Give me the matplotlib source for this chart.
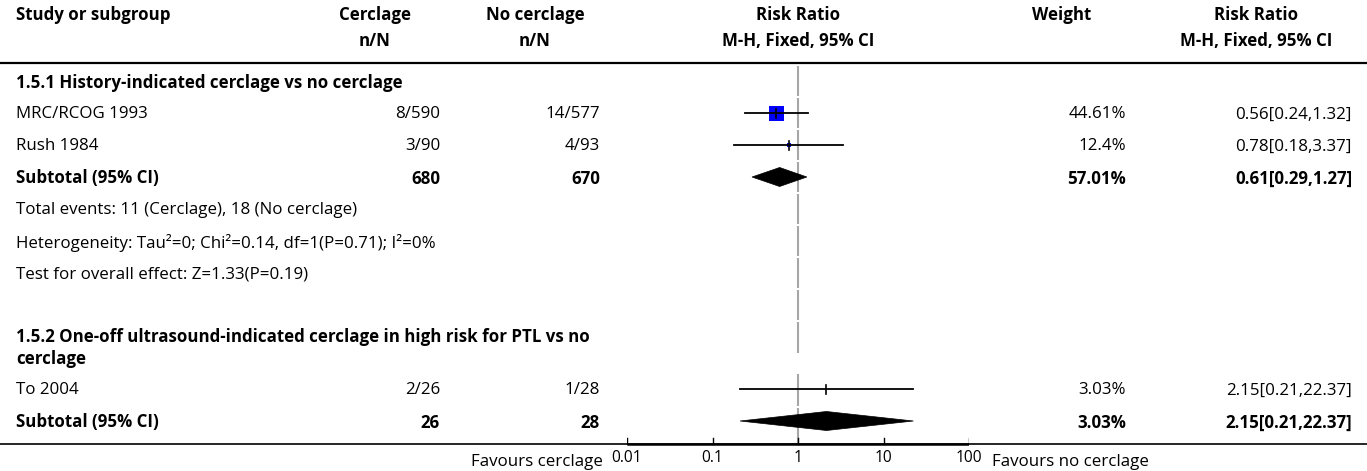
import matplotlib
matplotlib.use("Agg")
import matplotlib.pyplot as plt
from matplotlib.patches import Polygon

plt.rcParams["font.family"] = ["Open Sans", "DejaVu Sans"]

# ---- data ----
studies = ["MRC/RCOG 1993", "Rush 1984", "To 2004"]
cerclage_events = ["8/590", "3/90", "2/26"]
control_events = ["14/577", "4/93", "1/28"]
study_rr = [0.56, 0.78, 2.15]
study_lo = [0.24, 0.18, 0.21]
study_hi = [1.32, 3.37, 22.37]
study_weight = [44.61, 12.4, 3.03]
study_weight_txt = ["44.61%", "12.4%", "3.03%"]

subgroups = ["1.5.1 History-indicated cerclage vs no cerclage",
             "1.5.2 One-off ultrasound-indicated cerclage in high risk for PTL vs no\ncerclage"]
sub_n_cerclage = ["680", "26"]
sub_n_control = ["670", "28"]
sub_rr = [0.61, 2.15]
sub_lo = [0.29, 0.21]
sub_hi = [1.27, 22.37]
sub_weight_txt = ["57.01%", "3.03%"]

notes_151 = ["Total events: 11 (Cerclage), 18 (No cerclage)",
             "Heterogeneity: Tau\u00b2=0; Chi\u00b2=0.14, df=1(P=0.71); I\u00b2=0%",
             "Test for overall effect: Z=1.33(P=0.19)"]

axis_ticks = [0.01, 0.1, 1, 10, 100]
axis_tick_labels = ["0.01", "0.1", "1", "10", "100"]
left_label = "Favours cerclage"
right_label = "Favours no cerclage"

# ---- layout (pixel units, y downward) ----
W, H = 1367, 471
fig = plt.figure(figsize=(W / 100, H / 100), dpi=100)
tx = fig.add_axes([0, 0, 1, 1])
tx.set_xlim(0, W)
tx.set_ylim(H, 0)
tx.axis("off")

# forest panel on a log scale, sharing the pixel y frame
fx0, fx1 = 627, 969
fa = fig.add_axes([fx0 / W, 0, (fx1 - fx0) / W, 1])
fa.set_xscale("log")
fa.set_xlim(0.01, 100)
fa.set_ylim(H, 0)
fa.axis("off")
fa.patch.set_alpha(0)

FS = 12.2
BW = "bold"
DY = 1.5  # nudges text so its visual centre sits on the row centre
col_study = 16
col_c_ctr, col_c_right = 375, 440
col_n_ctr, col_n_right = 535, 600
col_rr_ctr = 798
col_w_ctr, col_w_right = 1062, 1126
col_rr2_ctr, col_rr2_right = 1256, 1352


def put(x, y, s, **kw):
    kw.setdefault("fontsize", FS)
    kw.setdefault("va", "center")
    tx.text(x, y + DY, s, **kw)


# header
hy1, hy2 = 14, 40
put(col_study, hy1, "Study or subgroup", weight=BW)
for cx, t in [(col_c_ctr, "Cerclage"), (col_n_ctr, "No cerclage"), (col_rr_ctr, "Risk Ratio"),
              (col_w_ctr, "Weight"), (col_rr2_ctr, "Risk Ratio")]:
    put(cx, hy1, t, weight=BW, ha="center")
for cx, t in [(col_c_ctr, "n/N"), (col_n_ctr, "n/N"), (col_rr_ctr, "M-H, Fixed, 95% CI"),
              (col_rr2_ctr, "M-H, Fixed, 95% CI")]:
    put(cx, hy2, t, weight=BW, ha="center")
tx.plot([0, W], [63, 63], color="black", lw=1.6)

# row centres
y_sg1 = 81
y_studies = [113, 145, 389]
y_sub = [177, 421]
y_notes = [209, 241, 273]
y_sg2_lines = [335, 357]

put(col_study, y_sg1, subgroups[0], weight=BW)
for line, y in zip(subgroups[1].split("\n"), y_sg2_lines):
    put(col_study, y, line, weight=BW)


def fmt_ci(rr, lo, hi):
    return f"{rr:.2f}[{lo:.2f},{hi:.2f}]"


for i, y in enumerate(y_studies):
    put(col_study, y, studies[i])
    put(col_c_right, y, cerclage_events[i], ha="right")
    put(col_n_right, y, control_events[i], ha="right")
    put(col_w_right, y, study_weight_txt[i], ha="right")
    put(col_rr2_right, y, fmt_ci(study_rr[i], study_lo[i], study_hi[i]), ha="right")

for j, y in enumerate(y_sub):
    put(col_study, y, "Subtotal (95% CI)", weight=BW)
    put(col_c_right, y, sub_n_cerclage[j], weight=BW, ha="right")
    put(col_n_right, y, sub_n_control[j], weight=BW, ha="right")
    put(col_w_right, y, sub_weight_txt[j], weight=BW, ha="right")
    put(col_rr2_right, y, fmt_ci(sub_rr[j], sub_lo[j], sub_hi[j]), weight=BW, ha="right")

for k, y in enumerate(y_notes):
    put(col_study, y, notes_151[k])

# line of no effect, broken at each row boundary
segments = [(66, 96), (98, 128), (130, 160), (162, 192), (194, 224), (226, 256),
            (258, 288), (290, 320), (322, 353), (374, 406), (408, 443)]
for a, b in segments:
    fa.plot([1, 1], [a, b], color="#a6a6a6", lw=1.5, solid_capstyle="butt")

# study estimates: square side proportional to weight
max_side_px = 15.0
for i, y in enumerate(y_studies):
    fa.plot([study_lo[i], study_hi[i]], [y, y], color="black", lw=1.3, zorder=3)
    side = study_weight[i] / max(study_weight) * max_side_px
    fa.plot([study_rr[i]], [y], marker="s", color="#0000ff", markersize=side * 0.72,
            markeredgewidth=0, zorder=2)
    fa.plot([study_rr[i], study_rr[i]], [y - 4.5, y + 4.5], color="black", lw=1.2, zorder=4)

# pooled estimates as diamonds
half_h = 9.5
for j, y in enumerate(y_sub):
    pts = [(sub_lo[j], y), (sub_rr[j], y - half_h), (sub_hi[j], y), (sub_rr[j], y + half_h)]
    fa.add_patch(Polygon(pts, closed=True, facecolor="black", edgecolor="black", lw=0.5, zorder=3))

# bottom axis
tx.plot([0, W], [443.5, 443.5], color="black", lw=1.2)
fa.plot([0.01, 100], [443.5, 443.5], color="black", lw=1.8, solid_capstyle="butt")
for t, lab in zip(axis_ticks, axis_tick_labels):
    fa.plot([t, t], [443.5, 437.5], color="black", lw=1.0)
    fa.text(t, 458, lab, fontsize=11.2, ha="center", va="center")
put(603, 461, left_label, ha="right")
put(992, 461, right_label, ha="left")

fig.savefig("out.png", dpi=100)
